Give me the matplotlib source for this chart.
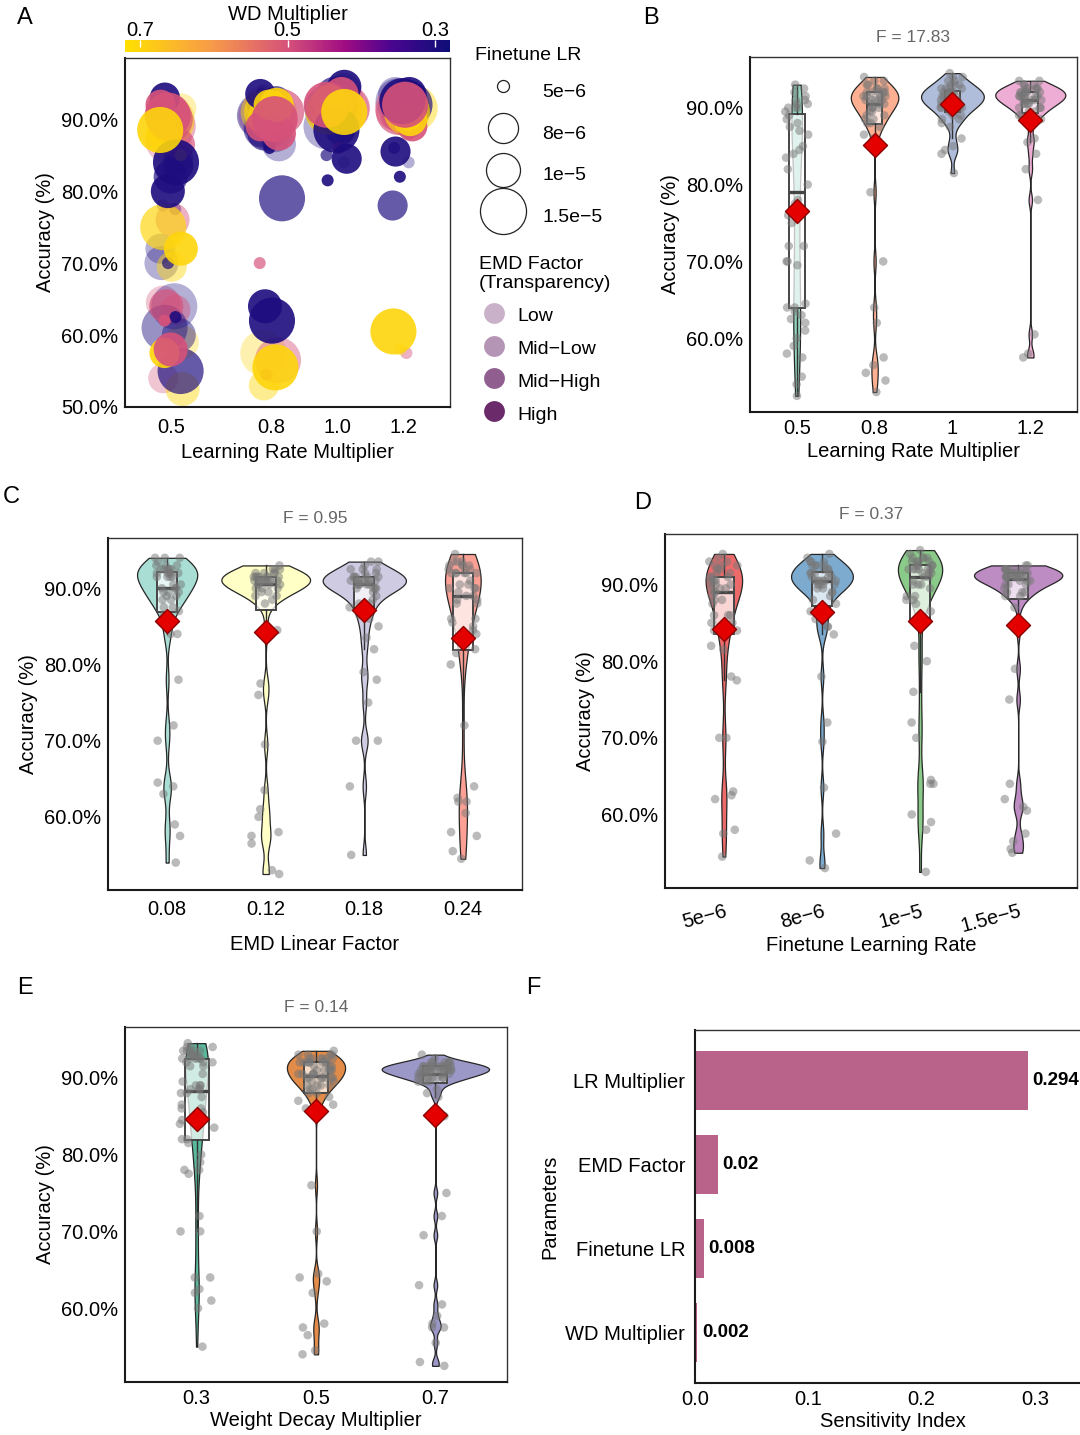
import itertools
import numpy as np
import pandas as pd
import matplotlib
matplotlib.use("Agg")
import matplotlib.pyplot as plt
from matplotlib import cbook
from matplotlib.cm import ScalarMappable
from matplotlib.colors import LinearSegmentedColormap, Normalize, to_rgba
from matplotlib.ticker import PercentFormatter, MultipleLocator
from matplotlib.lines import Line2D

plt.rcParams['font.family'] = ['Liberation Sans', 'DejaVu Sans']

# ---------------- data ----------------
LR_MULT = [0.5, 0.8, 1.0, 1.2]
EMD_FACTOR = [0.08, 0.12, 0.18, 0.24]
FT_LR = [5e-6, 8e-6, 1e-5, 1.5e-5]
WD_MULT = [0.3, 0.5, 0.7]

LR_LABELS = ["0.5", "0.8", "1", "1.2"]
LR_LABELS_A = ["0.5", "0.8", "1.0", "1.2"]
EMD_LABELS = ["0.08", "0.12", "0.18", "0.24"]
FT_LABELS = ["5e\u22126", "8e\u22126", "1e\u22125", "1.5e\u22125"]
WD_LABELS = ["0.3", "0.5", "0.7"]
EMD_LEVEL_NAMES = ["Low", "Mid\u2212Low", "Mid\u2212High", "High"]

# accuracy (%) for each run; order inside each list:
# EMD factor (outer) x finetune LR x WD multiplier (inner)
acc_lr05 = [78, 92.5, 63, 72, 54, 91.5, 70, 64.5, 59, 64, 87, 90,
            77.5, 91, 90, 84.5, 63.5, 69.5, 60, 76, 52.5, 61, 89, 89.5,
            70, 91, 90.5, 83.5, 86.5, 88, 82, 64, 87.5, 55, 90, 75,
            62.5, 62, 85, 93, 92, 57.5, 80, 58, 72, 84, 90.5, 88.5]
acc_lr08 = [94, 93, 89.5, 87.5, 92.5, 91.5, 86.5, 88.5, 92, 89, 90.5, 57.5,
            92.5, 90, 91.5, 92, 91.5, 53, 88.5, 92, 91, 90.5, 56.5, 91,
            93.5, 70, 91.5, 92.5, 90, 91, 88, 89.5, 90.5, 79, 91, 91,
            86, 54.5, 93, 93.5, 89, 92, 64, 88, 92, 62, 90, 55.5]
acc_lr10 = [84, 87.5, 89.5, 94, 92.5, 90, 94, 93, 92, 89, 92, 91.5,
            88, 90, 90.5, 92.5, 90.5, 91, 93, 92, 91.5, 91.5, 91, 91,
            85, 89, 90.5, 88.5, 90, 90.5, 93.5, 92.5, 91.5, 92, 91.5, 91,
            81.5, 86, 89.5, 84.5, 93, 90, 94.5, 93.5, 92.5, 88.5, 92, 91]
acc_lr12 = [84, 88.5, 92, 93, 89.5, 90.5, 93.5, 92.5, 90, 92.5, 92, 91.5,
            89, 57.5, 58, 89.5, 90.5, 91, 92.5, 92, 91, 91.5, 91.5, 91.5,
            86, 92.5, 91, 78, 90.5, 91.5, 93, 90, 91.5, 92, 91, 91,
            82, 88, 92, 85.5, 89, 90.5, 93.5, 93, 90, 92.5, 92, 60.5]

F_LR, F_EMD, F_FT, F_WD = 17.83, 0.95, 0.37, 0.14

SENS_PARAMS = ["LR Multiplier", "EMD Factor", "Finetune LR", "WD Multiplier"]
SENS_VALUES = [0.294, 0.02, 0.008, 0.002]

# ---------------- table ----------------
rows = []
for lr, accs in zip(LR_MULT, [acc_lr05, acc_lr08, acc_lr10, acc_lr12]):
    for (emd, ft, wd), a in zip(itertools.product(EMD_FACTOR, FT_LR, WD_MULT), accs):
        rows.append(dict(lr=lr, emd=emd, ft=ft, wd=wd, acc=a))
df = pd.DataFrame(rows)

# ---------------- figure ----------------
W, H = 1080, 1435
fig = plt.figure(figsize=(W / 100, H / 100), dpi=100, facecolor="white")


def px_axes(l, t, r, b):
    return fig.add_axes([l / W, 1 - b / H, (r - l) / W, (b - t) / H])


FS = 14.5


def style(ax, xpad=7):
    for s in ["left", "bottom"]:
        ax.spines[s].set_linewidth(1.5)
        ax.spines[s].set_color("#1a1a1a")
    for s in ["top", "right"]:
        ax.spines[s].set_linewidth(1.0)
        ax.spines[s].set_color("#333333")
    ax.tick_params(length=0, labelsize=FS)
    ax.tick_params(axis="x", pad=xpad)
    ax.tick_params(axis="y", pad=5)


def nrd0(x):
    x = np.asarray(x, float)
    sd = np.std(x, ddof=1)
    q75, q25 = np.percentile(x, [75, 25])
    lo = min(sd, (q75 - q25) / 1.34)
    if lo <= 0:
        lo = sd if sd > 0 else 1.0
    return 0.9 * lo * len(x) ** (-0.2)


def kde(x, coords):
    x = np.asarray(x, float)
    bw = nrd0(x)
    z = (np.asarray(coords)[:, None] - x[None, :]) / bw
    return np.exp(-0.5 * z ** 2).sum(axis=1) / (len(x) * bw * np.sqrt(2 * np.pi))


rng = np.random.default_rng(11)


def violin_panel(ax, col, levels, labels, colors, alpha, ftext, xlabel,
                 labelpad=4, xpad=7):
    groups = [df.loc[df[col] == lv, "acc"].to_numpy() for lv in levels]
    pos = np.arange(len(groups))
    stats = cbook.violin_stats(groups, kde, points=512)
    maxd = np.array([s["vals"].max() for s in stats])
    widths = 0.9 * maxd / maxd.max()
    parts = ax.violin(stats, positions=pos, widths=widths,
                      showmeans=False, showextrema=False, showmedians=False)
    for body, c in zip(parts["bodies"], colors):
        body.set_alpha(None)
        body.set_facecolor(to_rgba(c, alpha))
        body.set_edgecolor("#262626")
        body.set_linewidth(0.9)
        body.set_zorder(1)
    ax.boxplot(groups, positions=pos, widths=0.2, patch_artist=True,
               showfliers=False, showcaps=False, manage_ticks=False,
               boxprops=dict(facecolor=(1, 1, 1, 0.72), edgecolor="#454545", linewidth=1.4),
               whiskerprops=dict(color="#303030", linewidth=1.0),
               medianprops=dict(color="#454545", linewidth=2.4),
               zorder=2)
    for i, g in enumerate(groups):
        xj = i + rng.uniform(-0.15, 0.15, len(g))
        ax.scatter(xj, g, s=38, color="#777777", alpha=0.5, edgecolors="none", zorder=3)
    means = [g.mean() for g in groups]
    ax.scatter(pos, means, marker="D", s=150, color="#E50000",
               edgecolors="#8B0000", linewidths=1.0, zorder=5)
    ax.set_xlim(-0.6, len(groups) - 0.4)
    ax.margins(y=0.05)
    ax.set_xticks(pos)
    ax.set_xticklabels(labels)
    ax.yaxis.set_major_locator(MultipleLocator(10))
    ax.yaxis.set_major_formatter(PercentFormatter(decimals=1))
    ax.set_ylabel("Accuracy (%)", fontsize=FS)
    ax.set_xlabel(xlabel, fontsize=FS, labelpad=labelpad)
    ax.set_title(f"F = {ftext}", fontsize=12.5, color="#666666", pad=11)
    style(ax, xpad)


# ---------------- panel A ----------------
ax_a = px_axes(125, 58, 450, 407)
cmap = LinearSegmentedColormap.from_list(
    "wd", [(0.0, "#0E0E78"), (0.18, "#4A0590"), (0.32, "#9E0B83"),
           (0.5, "#D6517A"), (0.73, "#F7994A"), (1.0, "#FFE000")])
norm = Normalize(0.28, 0.72)
size_map = {5e-6: 75, 8e-6: 470, 1e-5: 600, 1.5e-5: 1100}
alpha_map = {0.08: 0.33, 0.12: 0.45, 0.18: 0.68, 0.24: 0.9}
base_rgba = cmap(norm(df["wd"].to_numpy()))
base_rgba[:, 3] = df["emd"].map(alpha_map).to_numpy()
xa = df["lr"].to_numpy() + rng.uniform(-0.035, 0.035, len(df))
ax_a.scatter(xa, df["acc"], s=df["ft"].map(size_map), c=base_rgba, edgecolors="none")
ax_a.set_xlim(0.36, 1.34)
ax_a.set_ylim(50, 98.5)
ax_a.set_xticks(LR_MULT)
ax_a.set_xticklabels(LR_LABELS_A)
ax_a.yaxis.set_major_locator(MultipleLocator(10))
ax_a.yaxis.set_major_formatter(PercentFormatter(decimals=1))
ax_a.set_xlabel("Learning Rate Multiplier", fontsize=FS)
ax_a.set_ylabel("Accuracy (%)", fontsize=FS)
style(ax_a, 8)

# colorbar
cax = px_axes(125, 40, 450, 52)
sm = ScalarMappable(norm=norm, cmap=cmap)
cb = fig.colorbar(sm, cax=cax, orientation="horizontal", ticks=WD_MULT)
cb.outline.set_visible(False)
cax.invert_xaxis()
cax.xaxis.set_ticks_position("top")
cax.xaxis.set_label_position("top")
cax.tick_params(length=5, width=1, color="white", direction="in", labelsize=FS, pad=0)
cax.set_xticklabels(WD_LABELS)
cb.set_label("WD Multiplier", fontsize=FS, labelpad=1)

# legends
ft_handles = [Line2D([], [], ls="", marker="o", markersize=np.sqrt(size_map[f]),
                     markerfacecolor="white", markeredgecolor="#222222",
                     markeredgewidth=0.9) for f in FT_LR]
leg1 = ax_a.legend(ft_handles, FT_LABELS, title="Finetune LR", loc="upper left",
                   bbox_to_anchor=(475 / W, 1 - 47 / H), bbox_transform=fig.transFigure,
                   frameon=False, fontsize=14, title_fontsize=14, alignment="left",
                   handleheight=2.0, labelspacing=0.6, handlelength=2.9,
                   handletextpad=0.55, borderpad=0, borderaxespad=0)
ax_a.add_artist(leg1)
emd_handles = [Line2D([], [], ls="", marker="o", markersize=15,
                      markerfacecolor=to_rgba("#5B145B", alpha_map[e]),
                      markeredgecolor="none") for e in EMD_FACTOR]
ax_a.legend(emd_handles, EMD_LEVEL_NAMES, title="EMD Factor\n(Transparency)",
            loc="upper left", bbox_to_anchor=(475 / W, 1 - 252 / H),
            bbox_transform=fig.transFigure, frameon=False, fontsize=14,
            title_fontsize=14, alignment="left", handleheight=1.3,
            labelspacing=0.6, handlelength=1.55, handletextpad=0.45,
            borderpad=0.2, borderaxespad=0)

# ---------------- panels B-E ----------------
ax_b = px_axes(750, 57, 1077, 412)
violin_panel(ax_b, "lr", LR_MULT, LR_LABELS,
             ["#66C2A5", "#FC8D62", "#8DA0CB", "#E78AC3"], 0.7, f"{F_LR}",
             "Learning Rate Multiplier", labelpad=3, xpad=5)

ax_c = px_axes(108, 538, 522, 890)
violin_panel(ax_c, "emd", EMD_FACTOR, EMD_LABELS,
             ["#8DD3C7", "#FFFFB3", "#BEBADA", "#FB8072"], 0.75, f"{F_EMD}",
             "EMD Linear Factor", labelpad=12)

ax_d = px_axes(665, 534, 1077, 888)
violin_panel(ax_d, "ft", FT_LR, FT_LABELS,
             ["#E41A1C", "#377EB8", "#4DAF4A", "#984EA3"], 0.65, f"{F_FT}",
             "Finetune Learning Rate", labelpad=0)
for t in ax_d.get_xticklabels():
    t.set_rotation(15)
    t.set_ha("right")
    t.set_rotation_mode("anchor")
ax_d.tick_params(axis="x", pad=10)

ax_e = px_axes(125, 1027, 507, 1382)
violin_panel(ax_e, "wd", WD_MULT, WD_LABELS,
             ["#1B9E77", "#D95F02", "#7570B3"], 0.72, f"{F_WD}",
             "Weight Decay Multiplier", labelpad=2, xpad=5)

# ---------------- panel F ----------------
ax_f = px_axes(695, 1030, 1090, 1383)
ypos = np.arange(len(SENS_PARAMS))
ax_f.barh(ypos, SENS_VALUES, height=0.7, color="#B9628A")
for y, v in zip(ypos, SENS_VALUES):
    ax_f.text(v + 0.004, y, f"{v}", va="center", ha="left",
              fontsize=13.5, fontweight="bold")
ax_f.set_yticks(ypos)
ax_f.set_yticklabels(SENS_PARAMS)
ax_f.set_ylim(len(SENS_PARAMS) - 0.4, -0.6)
ax_f.set_xlim(0, 0.3487)
ax_f.set_xticks([0, 0.1, 0.2, 0.3])
ax_f.set_xticklabels(["0.0", "0.1", "0.2", "0.3"])
ax_f.set_xlabel("Sensitivity Index", fontsize=FS, labelpad=2)
ax_f.set_ylabel("Parameters", fontsize=FS)
style(ax_f, 5)
ax_f.tick_params(axis="y", pad=7)

# panel letters
for letter, (x, y) in {"A": (25, 18), "B": (651, 18), "C": (11, 497),
                       "D": (643, 503), "E": (25, 988), "F": (533, 988)}.items():
    fig.text(x / W, 1 - y / H, letter, fontsize=17, ha="center", va="center")

fig.savefig("out.png", dpi=100, facecolor="white")
